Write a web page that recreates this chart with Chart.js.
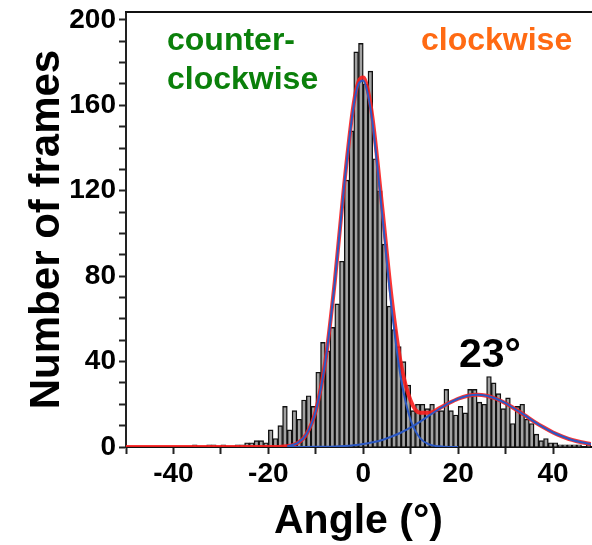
<!DOCTYPE html>
<html>
<head>
<meta charset="utf-8">
<script src="https://cdn.jsdelivr.net/npm/chart.js@4.4.1/dist/chart.umd.min.js"></script>
<style>
  html, body { margin: 0; padding: 0; background: #fff; }
  #wrap { width: 592px; height: 545px; }
</style>
</head>
<body>
<div id="wrap"><canvas id="hist" width="592" height="545"></canvas></div>
<script>
// histogram: 1 degree bins, value = bin centre
const binCenters = [
  -36.5, -35.5, -34.5, -33.5, -32.5, -31.5, -30.5, -29.5, -28.5, -27.5,
  -26.5, -25.5, -24.5, -23.5, -22.5, -21.5, -20.5, -19.5, -18.5, -17.5,
  -16.5, -15.5, -14.5, -13.5, -12.5, -11.5, -10.5, -9.5, -8.5, -7.5,
  -6.5, -5.5, -4.5, -3.5, -2.5, -1.5, -0.5, 0.5, 1.5, 2.5,
  3.5, 4.5, 5.5, 6.5, 7.5, 8.5, 9.5, 10.5, 11.5, 12.5,
  13.5, 14.5, 15.5, 16.5, 17.5, 18.5, 19.5, 20.5, 21.5, 22.5,
  23.5, 24.5, 25.5, 26.5, 27.5, 28.5, 29.5, 30.5, 31.5, 32.5,
  33.5, 34.5, 35.5, 36.5, 37.5, 38.5, 39.5, 40.5, 41.5, 42.5,
  43.5, 44.5, 45.5, 46.5, 47.5
];
const frameCounts = [
  0, 1, 0, 0, 1, 1, 0, 1, 0, 0,
  1, 1, 2, 2, 3, 3, 2, 8, 4, 10,
  19, 8, 17, 13, 22, 24, 19, 35, 49, 45,
  56, 67, 87, 125, 148, 185, 189, 170, 176, 135,
  120, 95, 66, 55, 47, 40, 29, 17, 20, 20,
  18, 20, 17, 17, 27, 17, 15, 19, 16, 27,
  27, 21, 20, 33, 30, 25, 18, 23, 11, 19,
  20, 13, 11, 6, 3, 4, 2, 2, 1, 1,
  1, 1, 1, 0, 1
];

// fitted curves
const fitAngles = [
  -50, -30, -20, -16, -14, -12, -10, -8, -6, -4, -2, -1, 0, 1, 2,
  4, 6, 8, 10, 12, 14, 16, 18, 20, 22, 24, 26, 28, 30, 32,
  34, 36, 38, 40, 42, 44, 46, 48
];
const fitTotal = [
  0, 0, 0, 0.4, 1.7, 5.9, 17.0, 40.0, 77.4, 123.2, 160.9, 171.1, 173.0, 166.7, 153.2,
  112.2, 69.4, 38.2, 21.7, 16.0, 16.0, 18.1, 20.5, 22.6, 24.0, 24.5, 24.0, 22.6, 20.5, 17.8,
  14.9, 11.9, 9.2, 6.8, 4.9, 3.3, 2.2, 1.4
];
const fitCounterClockwise = [
  null, null, null, 0.4, 1.7, 5.9, 16.9, 39.8, 77.1, 122.7, 160.1, 170.0, 171.6, 165.0, 151.0,
  108.9, 64.5, 31.4, 12.5, 4.1, 1.1, 0.3, 0, 0, null, null, null, null, null, null,
  null, null, null, null, null, null, null, null
];
const fitClockwise = [
  null, null, null, 0, 0.02, 0.04, 0.08, 0.15, 0.27, 0.49, 0.83, 1.07, 1.4, 1.74, 2.2,
  3.3, 4.9, 6.8, 9.2, 11.9, 14.9, 17.8, 20.5, 22.6, 24.0, 24.5, 24.0, 22.6, 20.5, 17.8,
  14.9, 11.9, 9.2, 6.8, 4.9, 3.3, 2.2, 1.4
];

const FONT = "'Liberation Sans', Arial, Helvetica, sans-serif";
Chart.defaults.font.family = FONT;

const toPoints = (ys) => fitAngles.map((a, i) => ({ x: a, y: ys[i] }));

const frameAndLabels = {
  id: 'frameAndLabels',
  afterDraw(chart) {
    const { ctx, chartArea } = chart;
    ctx.save();
    // top frame line
    ctx.strokeStyle = '#111';
    ctx.lineWidth = 2;
    ctx.beginPath();
    ctx.moveTo(chartArea.left - 1, chartArea.top);
    ctx.lineTo(chart.width, chartArea.top);
    ctx.stroke();

    ctx.textBaseline = 'alphabetic';
    ctx.font = 'bold 32px ' + FONT;
    ctx.fillStyle = '#0b800b';
    ctx.fillText('counter-', 167, 50);
    ctx.fillText('clockwise', 167, 89);
    ctx.fillStyle = '#ff6a13';
    ctx.fillText('clockwise', 421, 50);
    ctx.fillStyle = '#000';
    ctx.font = 'bold 41px ' + FONT;
    ctx.fillText('23°', 459, 367);
    ctx.restore();
  }
};

new Chart(document.getElementById('hist'), {
  type: 'bar',
  data: {
    datasets: [
      {
        type: 'line',
        data: toPoints(fitClockwise),
        borderColor: '#2b58c4',
        borderWidth: 2,
        pointRadius: 0,
        cubicInterpolationMode: 'monotone',
        spanGaps: false,
        order: 1
      },
      {
        type: 'line',
        data: toPoints(fitCounterClockwise),
        borderColor: '#2b58c4',
        borderWidth: 2,
        pointRadius: 0,
        cubicInterpolationMode: 'monotone',
        spanGaps: false,
        order: 1
      },
      {
        type: 'line',
        data: toPoints(fitTotal),
        borderColor: 'rgba(250, 30, 30, 0.9)',
        borderWidth: 4,
        pointRadius: 0,
        cubicInterpolationMode: 'monotone',
        order: 2
      },
      {
        type: 'bar',
        data: binCenters.map((a, i) => ({ x: a, y: frameCounts[i] })),
        backgroundColor: '#a2a2a2',
        borderColor: '#111',
        borderWidth: 1.4,
        barPercentage: 1,
        categoryPercentage: 1,
        order: 3
      }
    ]
  },
  options: {
    responsive: false,
    animation: false,
    devicePixelRatio: 1,
    layout: { padding: { top: 12, right: 1, left: 0, bottom: 0 } },
    plugins: {
      legend: { display: false },
      tooltip: { enabled: false }
    },
    scales: {
      x: {
        type: 'linear',
        min: -50,
        max: 48,
        offset: false,
        afterFit: (s) => { s.height = 98; s.paddingLeft = 0; s.paddingRight = 0; },
        border: { display: true, color: '#111', width: 2 },
        grid: { drawOnChartArea: false, offset: false, tickLength: 7, tickColor: '#222', tickWidth: 2 },
        ticks: {
          stepSize: 10,
          includeBounds: false,
          autoSkip: false,
          maxRotation: 0,
          padding: 3,
          color: '#000',
          font: { size: 28, weight: 'bold' },
          callback: (v) => (v % 20 === 0 ? v : '')
        },
        title: {
          display: true,
          text: 'Angle (°)',
          color: '#000',
          font: { size: 41, weight: 'bold', lineHeight: 1 },
          padding: { top: 0, bottom: 3 }
        }
      },
      y: {
        min: 0,
        max: 203.7,
        afterFit: (s) => { s.width = 126; s.paddingTop = 0; s.paddingBottom = 0; },
        border: { display: true, color: '#222', width: 2 },
        grid: { drawOnChartArea: false, tickLength: 7, tickColor: '#222', tickWidth: 2 },
        ticks: {
          stepSize: 10,
          includeBounds: false,
          autoSkip: false,
          padding: 3,
          color: '#000',
          font: { size: 28, weight: 'bold' },
          callback: (v) => (v % 40 === 0 ? v : '')
        },
        title: {
          display: true,
          text: 'Number of frames',
          color: '#000',
          font: { size: 42, weight: 'bold', lineHeight: 1 },
          padding: { top: 26, bottom: 0 }
        }
      }
    }
  },
  plugins: [frameAndLabels]
});
</script>
</body>
</html>
